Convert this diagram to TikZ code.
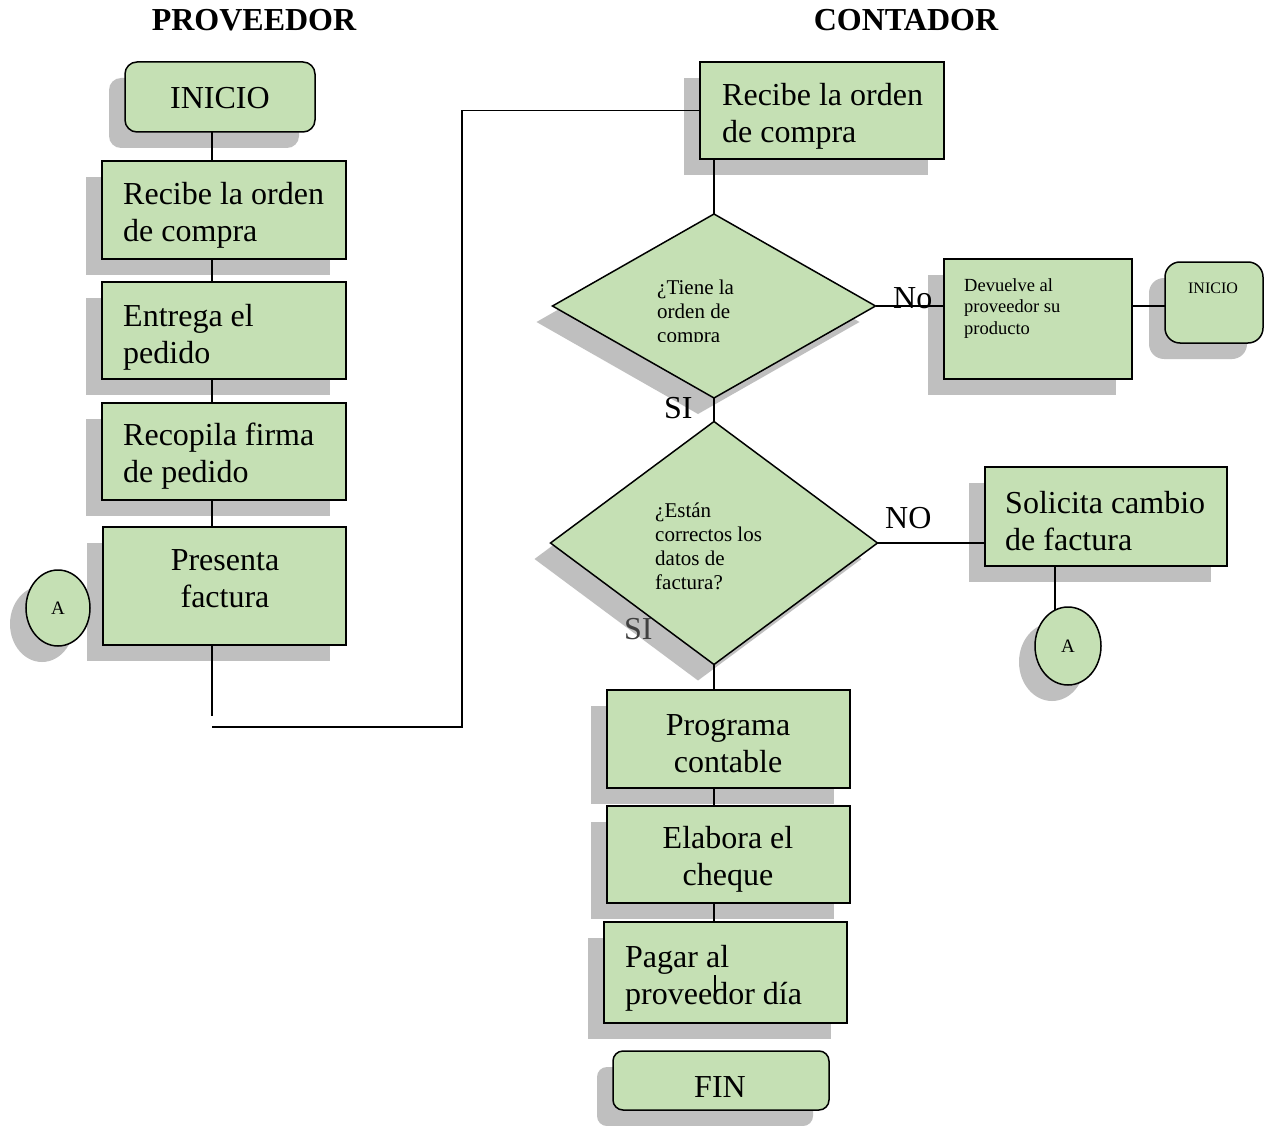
\documentclass[tikz,border=0pt]{standalone}
\usepackage{fontspec}
\setmainfont{Liberation Serif}
\usetikzlibrary{shapes.geometric,shadows}
\definecolor{boxgreen}{HTML}{C5E0B4}
\definecolor{shadowgray}{HTML}{BFBFBF}
\begin{document}
\begin{tikzpicture}[x=1pt,y=-1pt,
  shd/.style={drop shadow={shadow xshift=-16pt,shadow yshift=-16pt,fill=shadowgray,opacity=1}},
  pbox/.style={draw=black,line width=1.5pt,fill=boxgreen,shd,inner sep=0pt,outer sep=0pt},
  termbox/.style={pbox,rounded corners=12pt},
  decbox/.style={pbox,diamond},
  connbox/.style={pbox,ellipse},
  bigtxt/.style={font=\fontsize{32}{37}\selectfont,inner sep=0pt,align=left},
  ctrtxt/.style={font=\fontsize{32}{37}\selectfont,inner sep=0pt,align=center},
  midtxt/.style={font=\fontsize{21}{24}\selectfont,inner sep=0pt,align=left},
  smtxt/.style={font=\fontsize{18.5}{21.5}\selectfont,inner sep=0pt,align=left},
  titletxt/.style={font=\fontsize{32}{37}\selectfont\bfseries,inner sep=0pt},
  conn/.style={line width=1.2pt,draw=black}]
\fill[white] (0,0) rectangle (1269,1126);
\useasboundingbox (0,0) rectangle (1269,1126);

% titles
\node[titletxt,anchor=base] (t1) at (254,31) {PROVEEDOR};
\node[titletxt,anchor=base] (t2) at (906,31) {CONTADOR};

% left column
\node[termbox,minimum width=190pt,minimum height=70pt] (ini) at (220,97) {};
\node[pbox,minimum width=244pt,minimum height=98pt] (rb1) at (224,210) {};
\node[pbox,minimum width=244pt,minimum height=97pt] (ent) at (224,330.5) {};
\node[pbox,minimum width=244pt,minimum height=97pt] (rec) at (224,451.5) {};
\node[pbox,minimum width=243pt,minimum height=118pt] (pf) at (224.5,586) {};
\node[connbox,minimum width=64pt,minimum height=76pt,font=\fontsize{19}{22}\selectfont] (aL) at (58,608) {A};

\node[ctrtxt,anchor=base] (tini) at (220,109) {INICIO};
\node[bigtxt,anchor=base west] (trb1) at (123,242) {Recibe la orden\\de compra};
\node[bigtxt,anchor=base west] (tent) at (123,363) {Entrega el\\pedido};
\node[bigtxt,anchor=base west] (trec) at (123,482) {Recopila firma\\de pedido};
\node[ctrtxt,anchor=base] (tpf) at (225,607) {Presenta\\factura};

% right column
\node[pbox,minimum width=244pt,minimum height=97pt] (rb2) at (822,110.5) {};
\node[decbox,minimum width=323pt,minimum height=184pt] (d1) at (714,306) {};
\node[pbox,minimum width=188pt,minimum height=120pt] (dev) at (1038,319) {};
\node[termbox,rounded corners=15pt,minimum width=98pt,minimum height=81pt] (ini2) at (1214,302.5) {};
\node[decbox,minimum width=327pt,minimum height=243pt] (d2) at (714,543) {};
\node[pbox,minimum width=242pt,minimum height=99pt] (sol) at (1106,516.5) {};
\node[connbox,minimum width=66pt,minimum height=78pt,font=\fontsize{19}{22}\selectfont] (aR) at (1068,646) {A};
\node[pbox,minimum width=243pt,minimum height=98pt] (prog) at (728.5,739) {};
\node[pbox,minimum width=243pt,minimum height=97pt] (elab) at (728.5,854.5) {};
\node[pbox,minimum width=243pt,minimum height=101pt] (pag) at (725.5,972.5) {};
\node[termbox,rounded corners=10pt,minimum width=216pt,minimum height=59pt] (fin) at (721,1080.5) {};

\node[bigtxt,anchor=base west] (trb2) at (722,143) {Recibe la orden\\de compra};
\begin{scope}
  \clip (640,265) rectangle (800,341);
  \node[midtxt,anchor=base west] (td1) at (657,342) {¿Tiene la\\orden de\\compra};
\end{scope}
\node[smtxt,anchor=base west] (tdev) at (964,334) {Devuelve al\\proveedor su\\producto};
\node[font=\fontsize{16}{19}\selectfont,inner sep=0pt,anchor=base] (tini2) at (1213,293) {INICIO};
\node[midtxt,anchor=base west] (td2) at (655,589) {¿Están\\correctos los\\datos de\\factura?};
\node[bigtxt,anchor=base west] (tsol) at (1005,550) {Solicita cambio\\de factura};
\node[ctrtxt,anchor=base] (tprog) at (728,772) {Programa\\contable};
\node[ctrtxt,anchor=base] (telab) at (728,885) {Elabora el\\cheque};
\node[bigtxt,anchor=base west] (tpag) at (625,1004) {Pagar al\\proveedor día};
\node[ctrtxt,anchor=base] (tfin) at (720,1097) {FIN};

% connectors left
\coordinate (lx) at (212,0);
\coordinate (lend) at (212,716);
\coordinate (lstart) at (212,727);
\coordinate (turnx) at (462,0);
\draw[conn] (lx |- ini.south) -- (lx |- rb1.north);
\draw[conn] (lx |- rb1.south) -- (lx |- ent.north);
\draw[conn] (lx |- ent.south) -- (lx |- rec.north);
\draw[conn] (lx |- rec.south) -- (lx |- pf.north);
\draw[conn] (lx |- pf.south) -- (lend);
\draw[conn] (lstart) -- (lstart -| turnx) -- (turnx |- rb2.west) -- (rb2.west);

% connectors right
\draw[conn] (d1.north |- rb2.south) -- (d1.north);
\draw[conn] (d1.east) -- (dev.west |- d1.east);
\draw[conn] (dev.east |- d1.east) -- (ini2.west |- d1.east);
\draw[conn] (d1.south) -- (d2.north);
\draw[conn] (d2.east) -- (sol.west |- d2.east);
\draw[conn] (aR.110 |- sol.south) -- (aR.110);
\draw[conn] (d2.south) -- (d2.south |- prog.north);
\draw[conn] (d2.south |- prog.south) -- (d2.south |- elab.north);
\draw[conn] (d2.south |- elab.south) -- (d2.south |- pag.north);
\coordinate (pmark1) at (715,975);
\coordinate (pmark2) at (715,993);
\draw[conn] (pmark1) -- (pmark2);

% labels
\node[bigtxt,anchor=base west] (lno1) at (893,308) {No};
\node[bigtxt,anchor=base west] (lno2) at (885,528) {NO};
\node[bigtxt,anchor=base west] (lsi1) at (664,418) {SI};
\node[bigtxt,anchor=base west,text=black!75] (lsi2) at (624,639) {SI};
\end{tikzpicture}
\end{document}
